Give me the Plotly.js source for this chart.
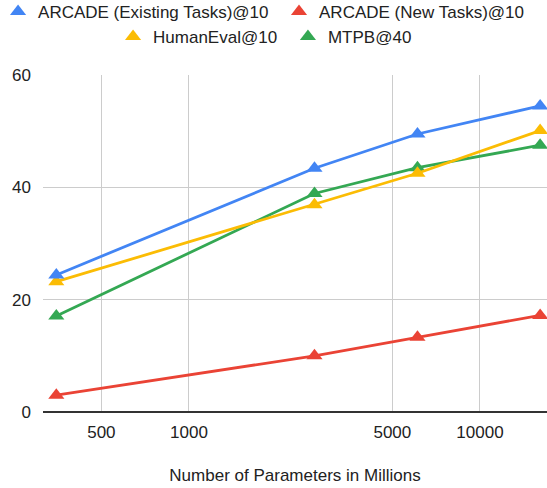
<!DOCTYPE html>
<html>
<head>
<meta charset="utf-8">
<script src="https://cdn.plot.ly/plotly-3.0.1.min.js"></script>
<style>html,body{margin:0;padding:0;background:#fff;}#chart{width:547px;height:488px;}</style>
</head>
<body>
<div id="chart"></div>
<script>
const params = [350, 2700, 6100, 16100];
const seriesNames = ["ARCADE (Existing Tasks)@10", "ARCADE (New Tasks)@10", "HumanEval@10", "MTPB@40"];
const arcadeExisting = [24.4, 43.4, 49.5, 54.5];
const arcadeNew = [3.0, 10.0, 13.3, 17.2];
const humanEval = [23.2, 36.9, 42.5, 50.1];
const mtpb = [17.1, 38.9, 43.5, 47.5];
const xTicks = [500, 1000, 5000, 10000];
const yTicks = [0, 20, 40, 60];
const colors = ["#4285F4", "#EA4335", "#FBBC04", "#34A853"];
const values = [arcadeExisting, arcadeNew, humanEval, mtpb];
const legendIds = ["legend", "legend2", "legend3", "legend4"];

const traces = [];
// draw order: red, green, yellow, blue on top
[1, 3, 2, 0].forEach(i => {
  traces.push({
    x: params, y: values[i], type: "scatter", mode: "lines+markers",
    name: seriesNames[i], showlegend: false, cliponaxis: false,
    line: {color: colors[i], width: 2.8},
    marker: {symbol: "triangle-up", size: 14, color: colors[i]},
    hoverinfo: "skip"
  });
});
seriesNames.forEach((n, i) => {
  traces.push({
    x: [null], y: [null], type: "scatter", mode: "markers", name: n,
    legend: legendIds[i],
    marker: {symbol: "triangle-up", size: 14, color: colors[i]}
  });
});

const font = {family: "Arial, 'Liberation Sans', sans-serif", size: 17, color: "#222"};
function leg(x, y) {
  return {orientation: "h", x: x, xanchor: "left", y: y, yanchor: "middle", font: font, bgcolor: "rgba(0,0,0,0)", itemclick: false};
}
const layout = {
  width: 547, height: 488,
  margin: {l: 43, r: 0, t: 75, b: 76, autoexpand: false},
  paper_bgcolor: "#fff", plot_bgcolor: "#fff",
  font: font,
  showlegend: true,
  xaxis: {
    type: "log", range: [Math.log10(315), Math.log10(17000)],
    tickvals: xTicks, ticktext: xTicks.map(String),
    showgrid: true, gridcolor: "#cccccc", gridwidth: 1,
    zeroline: false, showline: false, ticks: "",
    tickfont: font, ticklabelstandoff: 8, automargin: false,
    title: {text: "Number of Parameters in Millions", font: font, standoff: 28}
  },
  yaxis: {
    range: [0, 60], tickvals: yTicks, ticktext: yTicks.map(String),
    showgrid: true, gridcolor: "#cccccc", gridwidth: 1,
    zeroline: true, zerolinecolor: "#333333", zerolinewidth: 1.5,
    showline: false, ticks: "", automargin: false,
    tickfont: font, ticklabelstandoff: 11
  },
  legend: leg(-0.0892, 1.187),
  legend2: leg(0.4683, 1.187),
  legend3: leg(0.139, 1.1128),
  legend4: leg(0.486, 1.1128)
};
Plotly.newPlot("chart", traces, layout, {displayModeBar: false, staticPlot: true});
</script>
</body>
</html>
